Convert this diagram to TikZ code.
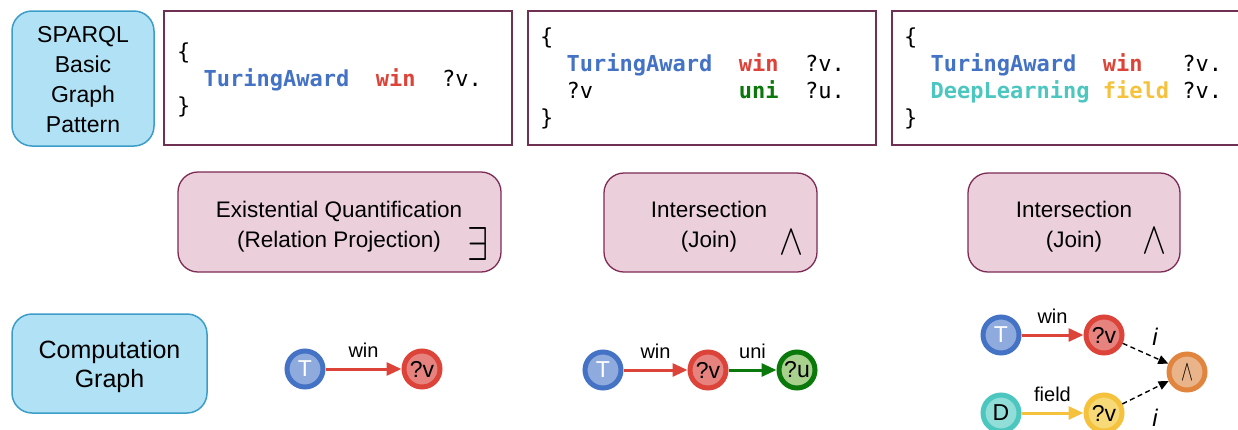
\documentclass[tikz,border=0pt]{standalone}
\usepackage{fontspec}
\setmainfont{Liberation Sans}
\newfontfamily\codefont{DejaVu Sans Mono}
\usetikzlibrary{arrows.meta}

% palette
\definecolor{lblfill}{HTML}{B1E1F4}
\definecolor{lblborder}{HTML}{3C9DC9}
\definecolor{codeborder}{HTML}{6E3154}
\definecolor{opfill}{HTML}{EBD0DC}
\definecolor{opborder}{HTML}{7D2A55}
\definecolor{tblue}{HTML}{4472C4}
\definecolor{tbluefill}{HTML}{8FAADC}
\definecolor{vred}{HTML}{DD4439}
\definecolor{vredfill}{HTML}{E6837F}
\definecolor{ugreen}{HTML}{0A780A}
\definecolor{ugreenfill}{HTML}{A9D18E}
\definecolor{dteal}{HTML}{4CC7BF}
\definecolor{dtealfill}{HTML}{91DDD8}
\definecolor{vyel}{HTML}{F4C23C}
\definecolor{vyelfill}{HTML}{F8D977}
\definecolor{andor}{HTML}{E0843E}
\definecolor{andorfill}{HTML}{EAB48B}

\newcommand{\kw}[2]{\textcolor{#1}{\bfseries #2}}

\tikzset{
  lblbox/.style={draw=lblborder, fill=lblfill, line width=1.5pt, rounded corners=20pt, inner sep=0pt},
  lbltext/.style={align=center, inner sep=0pt, font=\fontsize{23}{30}\selectfont},
  codebox/.style={draw=codeborder, fill=white, line width=1.5pt, inner sep=0pt},
  codeline/.style={anchor=base west, inner sep=0pt, font=\codefont\fontsize{22}{27}\selectfont},
  opbox/.style={draw=opborder, fill=opfill, line width=1.3pt, rounded corners=20pt, inner sep=0pt},
  optext/.style={align=center, inner sep=0pt, font=\fontsize{22.5}{30}\selectfont},
  opsym/.style={anchor=north west, inner sep=0pt},
  ent/.style 2 args={circle, minimum size=36pt, inner sep=0pt, line width=5pt,
    draw=#1, fill=#2, font=\fontsize{23}{23}\selectfont},
  rel/.style={line width=3pt, -{Triangle[length=15pt,width=13pt]}},
  proj/.style={line width=1.4pt, dash pattern=on 5pt off 3.5pt, -{Triangle[length=10pt,width=9pt]}},
  elabel/.style={midway, above=10pt, inner sep=0pt, font=\fontsize{20}{20}\selectfont},
  ilabel/.style={midway, inner sep=0pt, font=\fontsize{24}{24}\selectfont\itshape}
}

\begin{document}
\begin{tikzpicture}[x=1pt, y=-1pt]
\useasboundingbox (0,0) rectangle (1238,429);
\clip (0,0) rectangle (1238,429);

% ---- row labels ----
\node[lblbox, minimum width=142pt, minimum height=135pt] (sparql) at (83,78.5) {};
\node[lbltext] (sparqlt) at (83,80) {SPARQL\\Basic\\Graph\\Pattern};
\node[lblbox, minimum width=195pt, minimum height=99pt] (comp) at (109.5,363.5) {};
\node[lbltext, font=\fontsize{25}{29}\selectfont] (compt) at (109.5,367) {Computation\\Graph};

% ---- query patterns ----
\node[codebox, minimum width=348pt, minimum height=134pt] (q1) at (338,78) {};
\node[codeline] (q1a) at (177,59) {\{};
\node[codeline] (q1b) at (177,86) {~~\kw{tblue}{TuringAward}~~\kw{vred}{win}~~?v.};
\node[codeline] (q1c) at (177,113) {\}};

\node[codebox, minimum width=348pt, minimum height=134pt] (q2) at (702,78) {};
\node[codeline] (q2a) at (540,44) {\{};
\node[codeline] (q2b) at (540,71) {~~\kw{tblue}{TuringAward}~~\kw{vred}{win}~~?v.};
\node[codeline] (q2c) at (540,98) {~~?v~~~~~~~~~~~\kw{ugreen}{uni}~~?u.};
\node[codeline] (q2d) at (540,125) {\}};

\node[codebox, minimum width=360pt, minimum height=134pt] (q3) at (1072,78) {};
\node[codeline] (q3a) at (904,44) {\{};
\node[codeline] (q3b) at (904,71) {~~\kw{tblue}{TuringAward}~~\kw{vred}{win}~~~?v.};
\node[codeline] (q3c) at (904,98) {~~\kw{dteal}{DeepLearning}~\kw{vyel}{field}~?v.};
\node[codeline] (q3d) at (904,125) {\}};

% ---- operators ----
\node[opbox, minimum width=323pt, minimum height=100pt] (op1) at (339.5,222) {};
\node[optext] (op1t) at (339,226.5) {Existential Quantification\\(Relation Projection)};
\node[opsym] (op1s) at (467,227) {\resizebox{21pt}{33pt}{$\exists$}};

\node[opbox, minimum width=213pt, minimum height=99pt] (op2) at (710.5,222.5) {};
\node[optext] (op2t) at (709,226.5) {Intersection\\(Join)};
\node[opsym] (op2s) at (779,230) {\resizebox{24pt}{24pt}{$\wedge$}};

\node[opbox, minimum width=212pt, minimum height=99pt] (op3) at (1074,222.5) {};
\node[optext] (op3t) at (1074,226.5) {Intersection\\(Join)};
\node[opsym] (op3s) at (1142,228) {\resizebox{24pt}{25pt}{$\wedge$}};

% ---- computation graphs ----
\node[ent={tblue}{tbluefill}, text=white] (g1t) at (305,369) {T};
\node[ent={vred}{vredfill}] (g1v) at (422,369) {?v};
\draw[rel, vred] (g1t) -- (g1v) node[elabel, text=black] (g1l) {win};

\node[ent={tblue}{tbluefill}, text=white] (g2t) at (603,370) {T};
\node[ent={vred}{vredfill}] (g2v) at (708,370) {?v};
\node[ent={ugreen}{ugreenfill}] (g2u) at (797,370) {?u};
\draw[rel, vred] (g2t) -- (g2v) node[elabel, text=black] (g2l1) {win};
\draw[rel, ugreen] (g2v) -- (g2u) node[elabel, text=black] (g2l2) {uni};

\node[ent={tblue}{tbluefill}, text=white] (g3t) at (1001,335) {T};
\node[ent={vred}{vredfill}] (g3v) at (1104,335) {?v};
\node[ent={dteal}{dtealfill}] (g3d) at (1001,413) {D};
\node[ent={vyel}{vyelfill}] (g3w) at (1104,413) {?v};
\node[ent={andor}{andorfill}] (g3and) at (1187,372) {\resizebox{12pt}{16pt}{$\wedge$}};
\draw[rel, vred] (g3t) -- (g3v) node[elabel, text=black] (g3l1) {win};
\draw[rel, vyel] (g3d) -- (g3w) node[elabel, text=black] (g3l2) {field};
\draw[proj] (g3v) -- (g3and) node[ilabel, xshift=9.5pt, yshift=17pt] (g3i1) {i};
\draw[proj] (g3w) -- (g3and) node[ilabel, xshift=9.5pt, yshift=-25pt] (g3i2) {i};
\end{tikzpicture}
\end{document}
